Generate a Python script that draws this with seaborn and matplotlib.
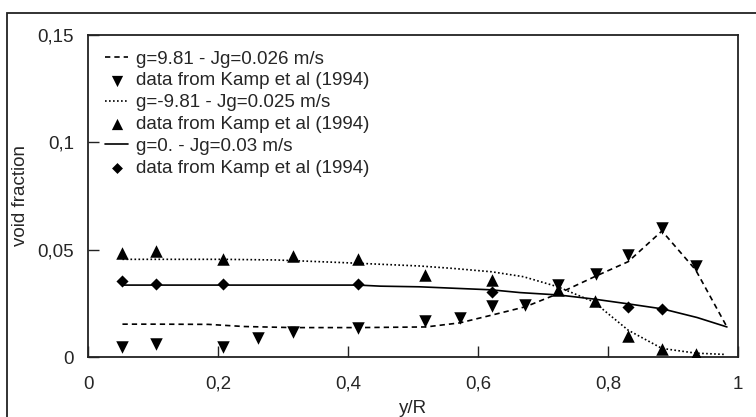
import numpy as np
import pandas as pd
import matplotlib
matplotlib.use('Agg')
import matplotlib.pyplot as plt
import matplotlib.patches as mpatches
import seaborn as sns

# ==========================================================
# DATA
# ==========================================================
# simulation, g=9.81 - Jg=0.026 m/s
x_sim_pos = [0.053, 0.104, 0.185, 0.24, 0.315, 0.416, 0.52, 0.572, 0.621, 0.673, 0.724, 0.78, 0.831, 0.883, 0.935, 0.983]
y_sim_pos = [0.0153, 0.0153, 0.0152, 0.0142, 0.0137, 0.0137, 0.0140, 0.0159, 0.0195, 0.0234, 0.0296, 0.0375, 0.0444, 0.0587, 0.0405, 0.0140]

# simulation, g=-9.81 - Jg=0.025 m/s
x_sim_neg = [0.053, 0.104, 0.208, 0.29, 0.39, 0.45, 0.51, 0.56, 0.621, 0.67, 0.723, 0.778, 0.831, 0.883, 0.935, 0.98]
y_sim_neg = [0.0455, 0.0455, 0.0455, 0.0452, 0.0440, 0.0432, 0.0424, 0.0413, 0.0397, 0.0374, 0.0327, 0.0257, 0.0125, 0.0040, 0.0018, 0.0012]

# simulation, g=0. - Jg=0.03 m/s
x_sim_zero = [0.053, 0.104, 0.208, 0.315, 0.416, 0.45, 0.51, 0.62, 0.665, 0.724, 0.778, 0.83, 0.884, 0.937, 0.983]
y_sim_zero = [0.0335, 0.0335, 0.0335, 0.0335, 0.0335, 0.0330, 0.0327, 0.0313, 0.0300, 0.0289, 0.0270, 0.0248, 0.0224, 0.0184, 0.0140]

# Kamp et al (1994) measurements
x_kamp_pos = [0.053, 0.104, 0.208, 0.262, 0.315, 0.416, 0.519, 0.572, 0.621, 0.673, 0.723, 0.781, 0.831, 0.883, 0.935]
y_kamp_pos = [0.0048, 0.0060, 0.0048, 0.0090, 0.0117, 0.0133, 0.0168, 0.0183, 0.0237, 0.0240, 0.0335, 0.0386, 0.0473, 0.0601, 0.0424]

x_kamp_neg = [0.053, 0.104, 0.208, 0.315, 0.416, 0.519, 0.621, 0.723, 0.78, 0.831, 0.883, 0.935]
y_kamp_neg = [0.0483, 0.0493, 0.0457, 0.0471, 0.0455, 0.0382, 0.0358, 0.0310, 0.0260, 0.0098, 0.0036, 0.0016]

x_kamp_zero = [0.053, 0.104, 0.208, 0.416, 0.621, 0.831, 0.883]
y_kamp_zero = [0.0354, 0.0339, 0.0339, 0.0339, 0.0301, 0.0233, 0.0222]

x_ticks = [0, 0.2, 0.4, 0.6, 0.8, 1]
x_tick_labels = ['0', '0,2', '0,4', '0,6', '0,8', '1']
y_ticks = [0, 0.05, 0.1, 0.15]
y_tick_labels = ['0', '0,05', '0,1', '0,15']

lbl_pos = 'g=9.81 - Jg=0.026 m/s'
lbl_neg = 'g=-9.81 - Jg=0.025 m/s'
lbl_zero = 'g=0. - Jg=0.03 m/s'
lbl_kamp = 'data from Kamp et al (1994)'

# ==========================================================
# PLOT
# ==========================================================
sns.set_style('ticks')
plt.rcParams['font.family'] = ['Liberation Sans', 'DejaVu Sans']
plt.rcParams['font.size'] = 13.5

fig = plt.figure(figsize=(7.56, 4.17), dpi=100)
ax = fig.add_axes([88 / 756, 1 - 357 / 417, 650 / 756, 322 / 417])

# outer frame around the whole chart area
fig.patches.append(mpatches.Rectangle((7 / 756, -0.1), 1.2, 1.1 - 13 / 417, transform=fig.transFigure,
                                      fill=False, edgecolor='#222222', linewidth=1.3))

lw = 1.2
sns.lineplot(x=x_sim_pos, y=y_sim_pos, sort=False, estimator=None, color='black', linewidth=lw,
             linestyle=(0, (3.2, 2.4)), ax=ax, label=lbl_pos)
sns.lineplot(x=x_sim_neg, y=y_sim_neg, sort=False, estimator=None, color='black', linewidth=lw,
             linestyle=(0, (1.0, 1.4)), ax=ax, label=lbl_neg)
sns.lineplot(x=x_sim_zero, y=y_sim_zero, sort=False, estimator=None, color='black', linewidth=lw,
             ax=ax, label=lbl_zero)

sns.scatterplot(x=x_kamp_pos, y=y_kamp_pos, marker='v', s=81, color='black', linewidth=0, ax=ax, label='kpos', zorder=3)
sns.scatterplot(x=x_kamp_neg, y=y_kamp_neg, marker='^', s=81, color='black', linewidth=0, ax=ax, label='kneg', zorder=3)
sns.scatterplot(x=x_kamp_zero, y=y_kamp_zero, marker='D', s=38, color='black', linewidth=0, ax=ax, label='kzero', zorder=3)

ax.set_xlim(0, 1)
ax.set_ylim(0, 0.15)
ax.set_xticks(x_ticks)
ax.set_xticklabels(x_tick_labels)
ax.set_yticks(y_ticks)
ax.set_yticklabels(y_tick_labels)
ax.tick_params(direction='in', length=8, width=1.0, color='#222222', labelsize=13.5)
ax.tick_params(axis='x', pad=13.5)
ax.tick_params(axis='y', pad=10)
for sp in ax.spines.values():
    sp.set_visible(True)
    sp.set_color('#222222')
    sp.set_linewidth(1.3)

ax.set_xlabel('y/R', fontsize=13.5, labelpad=5)
ax.set_ylabel('void fraction', fontsize=13.5, labelpad=6)

handles, labels = ax.get_legend_handles_labels()
hmap = dict(zip(labels, handles))
order = [lbl_pos, 'kpos', lbl_neg, 'kneg', lbl_zero, 'kzero']
leg_labels = [lbl_pos, lbl_kamp, lbl_neg, lbl_kamp, lbl_zero, lbl_kamp]
ax.legend([hmap[k] for k in order], leg_labels, loc='upper left', bbox_to_anchor=(0.015, 0.975),
          frameon=False, fontsize=13.5, handlelength=1.2, handletextpad=0.45, labelspacing=0.25,
          borderaxespad=0, markerscale=0.9, scatterpoints=1)

fig.savefig('out.png', dpi=100)
